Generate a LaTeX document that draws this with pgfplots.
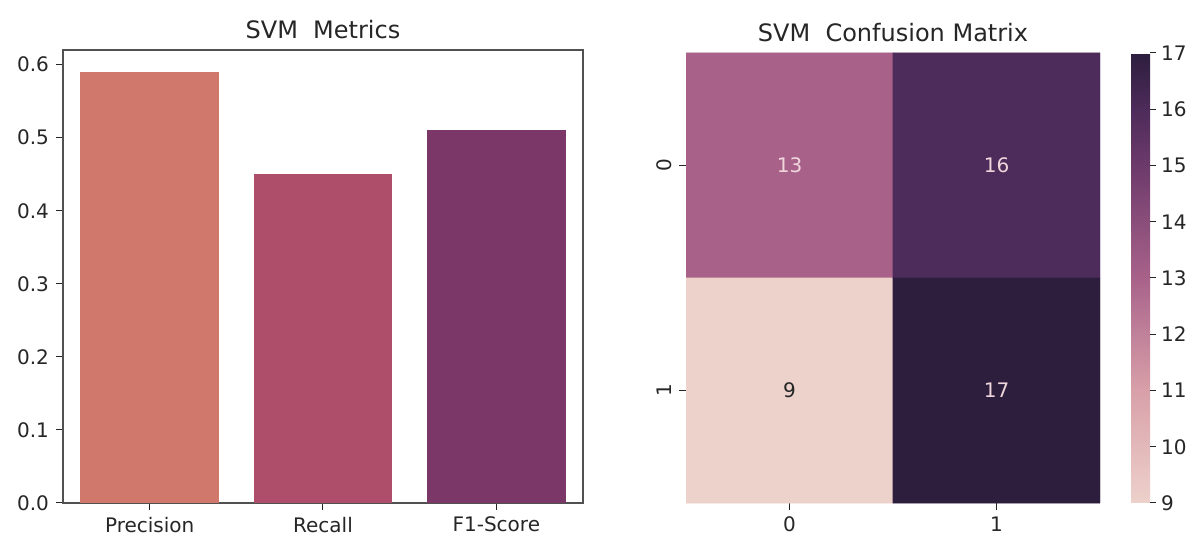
\documentclass[border=0pt]{standalone}
\usepackage{pgfplots}
\pgfplotsset{compat=1.18}
\usepackage{fontspec}
\setmainfont{DejaVu Sans}
\definecolor{txt}{HTML}{262626}
\definecolor{cPrec}{HTML}{D0786B}
\definecolor{cRec}{HTML}{AF4E6A}
\definecolor{cF1}{HTML}{7A3767}
\definecolor{lighttxt}{HTML}{F0D6DC}
\pgfplotsset{
  colormap={cube}{HTML(0)=(EDD1CB) HTML(0.25)=(D8A0A9) HTML(0.5)=(A8628A) HTML(0.75)=(6C3A6B) HTML(0.875)=(4D2B5A) HTML(1)=(2D1E3E)}
}
\begin{document}
\begin{tikzpicture}
\useasboundingbox (0,0) rectangle (597pt,270pt);
\begin{axis}[
  at={(31.5pt,18.5pt)}, anchor=south west,
  scale only axis, width=260pt, height=226.5pt,
  xmin=-0.5, xmax=2.5, ymin=0, ymax=0.62,
  xtick={0,1,2}, xticklabels={Precision,Recall,F1-Score},
  ytick={0,0.1,...,0.6},
  yticklabel style={/pgf/number format/.cd,fixed,fixed zerofill,precision=1},
  /pgf/number format/assume math mode=true,
  xtick pos=bottom, ytick pos=left, tick align=outside,
  major tick length=3.5pt,
  tick style={txt, line width=0.5pt},
  axis line style={txt!80, line width=0.6pt},
  ticklabel style={font=\fontsize{10}{11}\selectfont, text=txt},
  title={SVM\ \ Metrics}, title style={font=\fontsize{12}{13}\selectfont, text=txt, yshift=-4pt},
  ybar, bar width=0.8, bar shift=0pt,
]
\addplot[fill=cPrec, draw=none] coordinates {(0,0.59)};
\addplot[fill=cRec, draw=none] coordinates {(1,0.45)};
\addplot[fill=cF1, draw=none] coordinates {(2,0.51)};
\end{axis}
\begin{axis}[
  at={(343pt,18.5pt)}, anchor=south west,
  scale only axis, width=207pt, height=225pt,
  xmin=-0.5, xmax=1.5, ymin=-0.5, ymax=1.5, y dir=reverse,
  xtick={0,1}, ytick={0,1},
  yticklabel style={rotate=90},
  /pgf/number format/assume math mode=true,
  xtick pos=bottom, ytick pos=left, tick align=outside,
  major tick length=3.5pt,
  tick style={txt, line width=0.5pt},
  axis line style={draw=none},
  ticklabel style={font=\fontsize{10}{11}\selectfont, text=txt},
  title={SVM\ \ Confusion Matrix}, title style={font=\fontsize{12}{13}\selectfont, text=txt, yshift=-4pt},
  colormap name=cube, point meta min=9, point meta max=17,
  colorbar,
  colorbar style={
    at={(parent axis.north east)}, anchor=north west, xshift=7pt,
    width=9.5pt,
    ytick={9,...,17},
    axis line style={draw=none},
    ytick pos=right, tick align=outside, major tick length=3pt,
    tick style={txt, line width=0.5pt},
    yticklabel style={font=\fontsize{10}{11}\selectfont, text=txt, xshift=-1pt},
    /pgf/number format/assume math mode=true,
  },
]
\addplot[matrix plot*, mesh/cols=2, point meta=explicit] table[meta=c] {
x y c
0 0 13
1 0 16
0 1 9
1 1 17
};
\addplot[draw=none, nodes near coords, point meta=explicit symbolic,
  every node near coord/.append style={anchor=center, font=\fontsize{10}{11}\selectfont, text=lighttxt}]
  table[meta=c] {
x y c
0 0 13
1 0 16
1 1 17
};
\addplot[draw=none, nodes near coords, point meta=explicit symbolic,
  every node near coord/.append style={anchor=center, font=\fontsize{10}{11}\selectfont, text=txt}]
  table[meta=c] {
x y c
0 1 9
};
\end{axis}
\end{tikzpicture}
\end{document}
